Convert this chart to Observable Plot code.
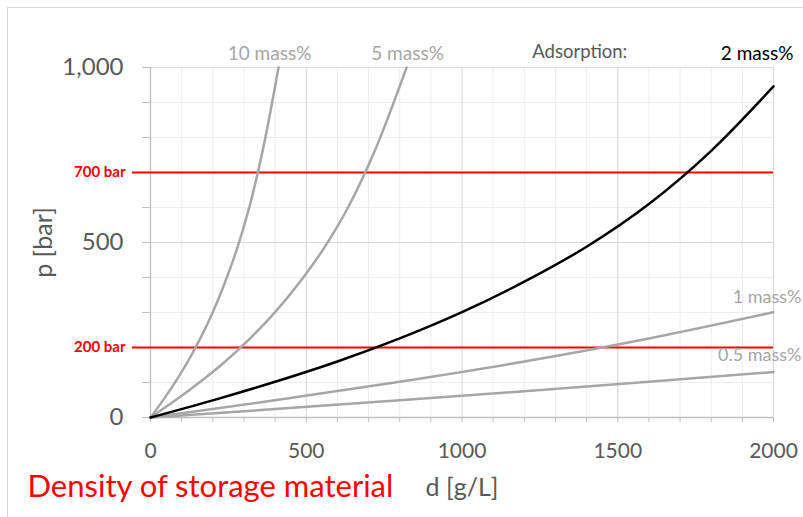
<!DOCTYPE html>
<html>
<head>
<meta charset="utf-8">
<script src="https://cdn.jsdelivr.net/npm/d3@7"></script>
<script src="https://cdn.jsdelivr.net/npm/@observablehq/plot@0.6"></script>
<style>
  html, body { margin: 0; padding: 0; background: #fff; overflow: hidden; }
  #wrap { position: relative; width: 803px; height: 517px; }
  #border { position: absolute; left: 7px; top: 7px; width: 900px; height: 700px;
            border-left: 1.5px solid #d9d9d9; border-top: 1.5px solid #d9d9d9; pointer-events: none; }
</style>
</head>
<body>
<div id="wrap"><div id="border"></div></div>
<script>
// Density of storage material d [g/L] vs pressure p [bar], per adsorption mass%
const d10 = [0, 40, 80, 120, 160, 200, 240, 280, 320, 360, 400, 411];
const p10 = [0, 49, 102, 160, 226, 301, 388, 488, 610, 762, 946, 1000];
const d5  = [0, 80, 160, 240, 320, 400, 480, 560, 640, 720, 800, 822];
const p5  = [0, 49, 102, 160, 226, 301, 388, 488, 610, 762, 946, 1000];
const d2  = [0, 200, 400, 600, 800, 1000, 1200, 1400, 1600, 1800, 2000];
const p2  = [0, 49, 102, 160, 226, 301, 388, 488, 610, 762, 946];
const d1  = [0, 400, 800, 1200, 1600, 2000];
const p1  = [0, 49, 102, 160, 226, 301];
const d05 = [0, 400, 800, 1200, 1600, 2000];
const p05 = [0, 24, 49, 75, 102, 130];

const seriesNames = ["10 mass%", "5 mass%", "2 mass%", "1 mass%", "0.5 mass%"];
const thresholds = [700, 200];
const thresholdLabels = ["700 bar", "200 bar"];
const xLabelTicks = [0, 500, 1000, 1500, 2000];
const yLabelTicks = [0, 500, 1000];

const toRows = (ds, ps, name) => ds.map((d, i) => ({d, p: ps[i], name}));
const s10 = toRows(d10, p10, seriesNames[0]);
const s5  = toRows(d5, p5, seriesNames[1]);
const s2  = toRows(d2, p2, seriesNames[2]);
const s1  = toRows(d1, p1, seriesNames[3]);
const s05 = toRows(d05, p05, seriesNames[4]);

const xMinor = d3.range(0, 2001, 100);
const yMinor = d3.range(0, 1001, 100);
const GRAY = "#a6a6a6";
const TXT = "#595959";
const RED = "#ff0000";

const plot = Plot.plot({
  width: 803,
  height: 517,
  marginLeft: 150,
  marginRight: 30,
  marginTop: 67,
  marginBottom: 100,
  style: {fontFamily: "Lato, 'Open Sans', sans-serif", background: "transparent", overflow: "visible"},
  x: {domain: [0, 2000]},
  y: {domain: [0, 1000]},
  marks: [
    Plot.gridX(xMinor.filter(v => v % 500 !== 0), {stroke: "#ededed", strokeOpacity: 1, strokeWidth: 1}),
    Plot.gridY(yMinor.filter(v => v % 500 !== 0), {stroke: "#ededed", strokeOpacity: 1, strokeWidth: 1}),
    Plot.gridX([500, 1000, 1500, 2000], {stroke: "#d9d9d9", strokeOpacity: 1, strokeWidth: 1.2}),
    Plot.gridY([500, 1000], {stroke: "#d9d9d9", strokeOpacity: 1, strokeWidth: 1.2}),
    Plot.axisX(xMinor, {tickSize: 5, tickFormat: () => "", stroke: "#bfbfbf", label: null}),
    Plot.axisY(yMinor, {tickSize: 8, tickFormat: () => "", stroke: "#bfbfbf", label: null}),
    Plot.axisX(xLabelTicks, {tickSize: 0, tickPadding: 26, fontSize: 21, fill: TXT, tickFormat: d3.format("d"), label: null}),
    Plot.axisY(yLabelTicks, {tickSize: 0, tickPadding: 27, fontSize: 24, fill: TXT, tickFormat: d3.format(","), label: null}),
    Plot.ruleX([0], {stroke: "#bfbfbf", strokeWidth: 1.3}),
    Plot.ruleY([0], {stroke: "#bfbfbf", strokeWidth: 1.3}),
    Plot.ruleY(thresholds, {stroke: RED, strokeWidth: 2, insetLeft: -18}),
    Plot.text(thresholds, {x: 0, y: d => d, text: (d, i) => thresholdLabels[i], textAnchor: "end", dx: -25,
      fill: RED, fontWeight: "bold", fontSize: 15}),
    Plot.line(s10, {x: "d", y: "p", stroke: GRAY, strokeWidth: 2.5, curve: "monotone-x"}),
    Plot.line(s5, {x: "d", y: "p", stroke: GRAY, strokeWidth: 2.5, curve: "monotone-x"}),
    Plot.line(s1, {x: "d", y: "p", stroke: GRAY, strokeWidth: 2.5, curve: "monotone-x"}),
    Plot.line(s05, {x: "d", y: "p", stroke: GRAY, strokeWidth: 2.5, curve: "monotone-x"}),
    Plot.line(s2, {x: "d", y: "p", stroke: "black", strokeWidth: 2.5, curve: "monotone-x"}),
    // series labels
    Plot.text([s10[s10.length - 1]], {x: "d", y: "p", text: "name", dx: -9, dy: -14, fill: GRAY, fontSize: 19}),
    Plot.text([s5[s5.length - 1]], {x: "d", y: "p", text: "name", dx: 1, dy: -14, fill: GRAY, fontSize: 19}),
    Plot.text([s2[s2.length - 1]], {x: "d", y: 1000, text: "name", textAnchor: "end", dx: 20, dy: -14, fill: "black", fontSize: 19}),
    Plot.text(["Adsorption:"], {x: 1378, y: 1000, text: d => d, dy: -15, fill: TXT, fontSize: 18.5}),
    Plot.text([s1[s1.length - 1]], {x: "d", y: "p", text: "name", textAnchor: "end", dx: 28, dy: -15, fill: GRAY, fontSize: 18}),
    Plot.text([s05[s05.length - 1]], {x: "d", y: "p", text: "name", textAnchor: "end", dx: 28, dy: -17, fill: GRAY, fontSize: 18}),
    // axis titles
    Plot.text(["p [bar]"], {x: 0, y: 500, text: d => d, rotate: -90, dx: -107, fill: TXT, fontSize: 25}),
    Plot.text(["d [g/L]"], {x: 1000, y: 0, text: d => d, dy: 70, fill: TXT, fontSize: 25}),
    Plot.text(["Density of storage material"], {x: 0, y: 0, text: d => d, textAnchor: "start", dx: -123, dy: 70, fill: RED, fontSize: 31})
  ]
});
document.getElementById("wrap").prepend(plot);
</script>
</body>
</html>
